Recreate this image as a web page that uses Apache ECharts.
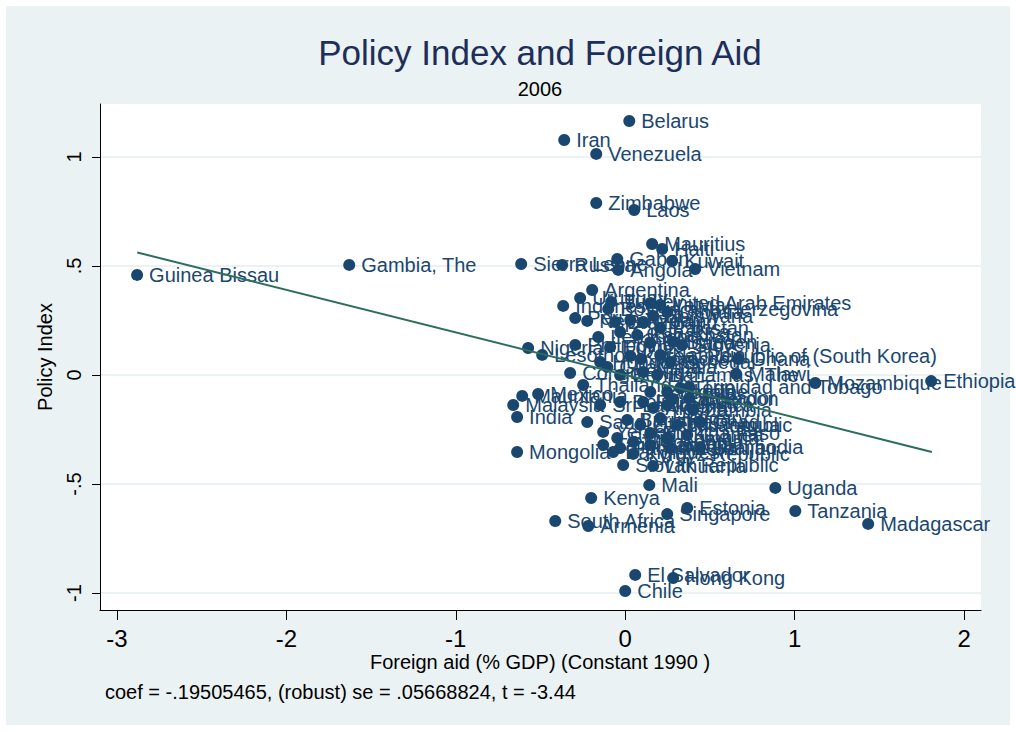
<!DOCTYPE html>
<html><head><meta charset="utf-8">
<script src="https://cdn.jsdelivr.net/npm/echarts@6/dist/echarts.min.js"></script>
<style>
html,body{margin:0;padding:0;background:#ffffff;}
#wrap{position:relative;width:1016px;height:731px;background:#ffffff;}
#bg{position:absolute;left:6px;top:6px;width:1004px;height:719px;background:#EAF2F3;}
#c{position:absolute;left:0;top:0;width:1016px;height:731px;}
</style>
</head><body>
<div id="wrap"><div id="bg"></div><div id="c"></div></div>
<script>
const countries = ["Belarus","Iran","Venezuela","Zimbabwe","Laos","Mauritius","Haiti","Gabon","Kuwait","Angola",
"Vietnam","Sierra Leone","Russia","Gambia, The","Guinea Bissau","Argentina","Ethiopia","Mozambique","Trinidad and Tobago","Malawi",
"Ghana","Uganda","Tanzania","Madagascar","Estonia","Singapore","Mali","Kenya","South Africa","Armenia",
"El Salvador","Hong Kong","Chile","Mongolia","India","Nigeria","Lesotho","Congo","Thailand","Mexico",
"Mauritania","Malaysia","Indonesia","Saudi Arabia","United Arab Emirates","Bosnia and Herzegovina","Slovenia","Czech Republic","Burkina Faso","Cambodia",
"Kyrgyz Republic","Slovak Republic","Lithuania","Korea, Republic of (South Korea)","Kazakhstan","Uruguay","Turkey","Peru","Nepal","Brazil",
"Jordan","Latvia","Croatia","Botswana","Poland","Pakistan","Lebanon","Sweden","Bulgaria","Egypt",
"Morocco","Namibia","Senegal","Honduras","Guatemala","Benin","Niger","Bahamas, The","Rwanda","Ukraine",
"Ecuador","Togo","Cameroon","Sri Lanka","Bolivia","Paraguay","Algeria","Jamaica","Zambia","Burundi",
"Hungary","Nicaragua","Chad","Yemen","Syria","Romania","Guinea","Tajikistan","Panama","Macedonia",
"Georgia","Azerbaijan","Bangladesh","Philippines","Costa Rica"];
const aid = [0.024,-0.360,-0.171,-0.171,0.053,0.159,0.218,-0.047,0.277,-0.041,
0.413,-0.614,-0.372,-1.629,-2.881,-0.195,1.806,1.122,0.378,0.655,
0.667,0.886,1.004,1.434,0.366,0.248,0.142,-0.201,-0.413,-0.218,
0.059,0.283,0.000,-0.638,-0.638,-0.573,-0.490,-0.325,-0.248,-0.514,
-0.608,-0.661,-0.366,-0.224,0.148,-0.100,0.336,0.089,0.148,0.443,
0.047,-0.012,0.165,0.030,0.071,-0.266,-0.083,-0.295,-0.224,-0.059,
0.030,0.207,0.248,0.165,0.106,0.207,-0.159,0.283,0.148,-0.089,
0.094,0.207,0.266,-0.148,-0.106,-0.030,0.106,0.189,0.148,0.248,
0.378,0.325,0.283,-0.148,-0.030,0.106,0.165,0.248,0.401,0.012,
0.207,0.307,0.443,-0.130,-0.047,0.248,0.366,-0.130,-0.030,0.047,
0.148,0.266,-0.071,-0.295,-0.030];
const policy = [1.165,1.078,1.014,0.789,0.757,0.601,0.578,0.532,0.523,0.482,
0.486,0.509,0.505,0.505,0.459,0.390,-0.028,-0.037,-0.055,0.005,
0.073,-0.518,-0.624,-0.683,-0.610,-0.638,-0.505,-0.564,-0.670,-0.693,
-0.917,-0.931,-0.991,-0.353,-0.193,0.124,0.092,0.009,-0.046,-0.087,
-0.096,-0.138,0.317,-0.216,0.330,0.303,0.138,-0.229,-0.266,-0.330,
-0.362,-0.413,-0.417,0.087,0.183,0.353,0.335,0.261,0.248,0.243,
0.252,0.321,0.289,0.271,0.243,0.216,0.174,0.151,0.147,0.128,
0.073,0.092,0.060,0.060,0.037,0.000,0.014,0.000,-0.078,-0.078,
-0.106,-0.060,-0.110,-0.138,-0.124,-0.124,-0.151,-0.138,-0.161,-0.206,
-0.197,-0.229,-0.216,-0.261,-0.289,-0.289,-0.275,-0.321,-0.335,-0.307,
-0.321,-0.335,-0.353,0.138,0.197];
const fitAid = [-2.88, 1.81];
const fitPolicy = [0.562, -0.353];
const xTicks = [-3, -2, -1, 0, 1, 2];
const yTicks = [-1, -0.5, 0, 0.5, 1];
const yTickLabels = ["-1", "-.5", "0", ".5", "1"];

const FONT = "'Liberation Sans', Arial, sans-serif";
const NAVY = "#1A476F";

const points = countries.map((n, i) => ({ name: n, value: [aid[i], policy[i]] }));
const fitData = fitAid.map((x, i) => [x, fitPolicy[i]]);

const chart = echarts.init(document.getElementById('c'), null, { renderer: 'svg', width: 1016, height: 731 });
chart.setOption({
  animation: false,
  backgroundColor: 'transparent',
  textStyle: { fontFamily: FONT },
  grid: { left: 100, right: 35, top: 104, bottom: 121, show: true, backgroundColor: '#ffffff', borderWidth: 0, containLabel: false },
  xAxis: {
    type: 'value', min: -3.1, max: 2.1,
    axisLine: { show: true, onZero: false, lineStyle: { color: '#000000', width: 1 } },
    axisTick: { show: true, customValues: xTicks, length: 10, lineStyle: { color: '#000000', width: 1 } },
    axisLabel: { show: true, customValues: xTicks, fontSize: 24, color: '#000000', margin: 16, fontFamily: FONT },
    splitLine: { show: false }
  },
  yAxis: {
    type: 'value', min: -1.078, max: 1.243,
    axisLine: { show: true, onZero: false, lineStyle: { color: '#000000', width: 1 } },
    axisTick: { show: true, customValues: yTicks, length: 8, lineStyle: { color: '#000000', width: 1 } },
    axisLabel: { show: true, customValues: yTicks, rotate: 90, fontSize: 20, color: '#000000', margin: 16, fontFamily: FONT,
      formatter: v => { const k = yTicks.indexOf(v); return k >= 0 ? yTickLabels[k] : ''; } },
    splitLine: { show: false }
  },
  series: [
    {
      type: 'scatter', data: [], z: 0, zlevel: 0, silent: true,
      markLine: {
        z: 0, silent: true, symbol: ['none', 'none'], label: { show: false }, animation: false,
        lineStyle: { color: '#EAF2F3', width: 2, type: 'solid' },
        data: yTicks.map(v => ({ yAxis: v }))
      }
    },
    {
      type: 'scatter', z: 3, data: points, symbol: 'circle', symbolSize: 12,
      itemStyle: { color: NAVY, opacity: 1 },
      label: { show: true, position: 'right', distance: 6, formatter: '{b}', color: NAVY, fontSize: 20, fontFamily: FONT },
      emphasis: { disabled: true }
    },
    {
      type: 'line', z: 4, data: fitData, symbol: 'none', showSymbol: false,
      lineStyle: { color: '#2B6E5D', width: 2 }, silent: true
    }
  ],
  graphic: [
    { type: 'text', style: { text: 'Policy Index and Foreign Aid', x: 540, y: 52, font: "35px " + FONT, fill: '#1E2E5A', textAlign: 'center', textVerticalAlign: 'middle' } },
    { type: 'text', style: { text: '2006', x: 540, y: 89, font: "20px " + FONT, fill: '#000000', textAlign: 'center', textVerticalAlign: 'middle' } },
    { type: 'text', style: { text: 'Foreign aid (% GDP) (Constant 1990 )', x: 540, y: 662, font: "20px " + FONT, fill: '#000000', textAlign: 'center', textVerticalAlign: 'middle' } },
    { type: 'text', rotation: Math.PI / 2, x: 45, y: 357, style: { text: 'Policy Index', x: 0, y: 0, font: "20px " + FONT, fill: '#000000', textAlign: 'center', textVerticalAlign: 'middle' } },
    { type: 'text', style: { text: 'coef = -.19505465, (robust) se = .05668824, t = -3.44', x: 105, y: 692, font: "20px " + FONT, fill: '#000000', textAlign: 'left', textVerticalAlign: 'middle' } }
  ]
});
</script>
</body></html>
